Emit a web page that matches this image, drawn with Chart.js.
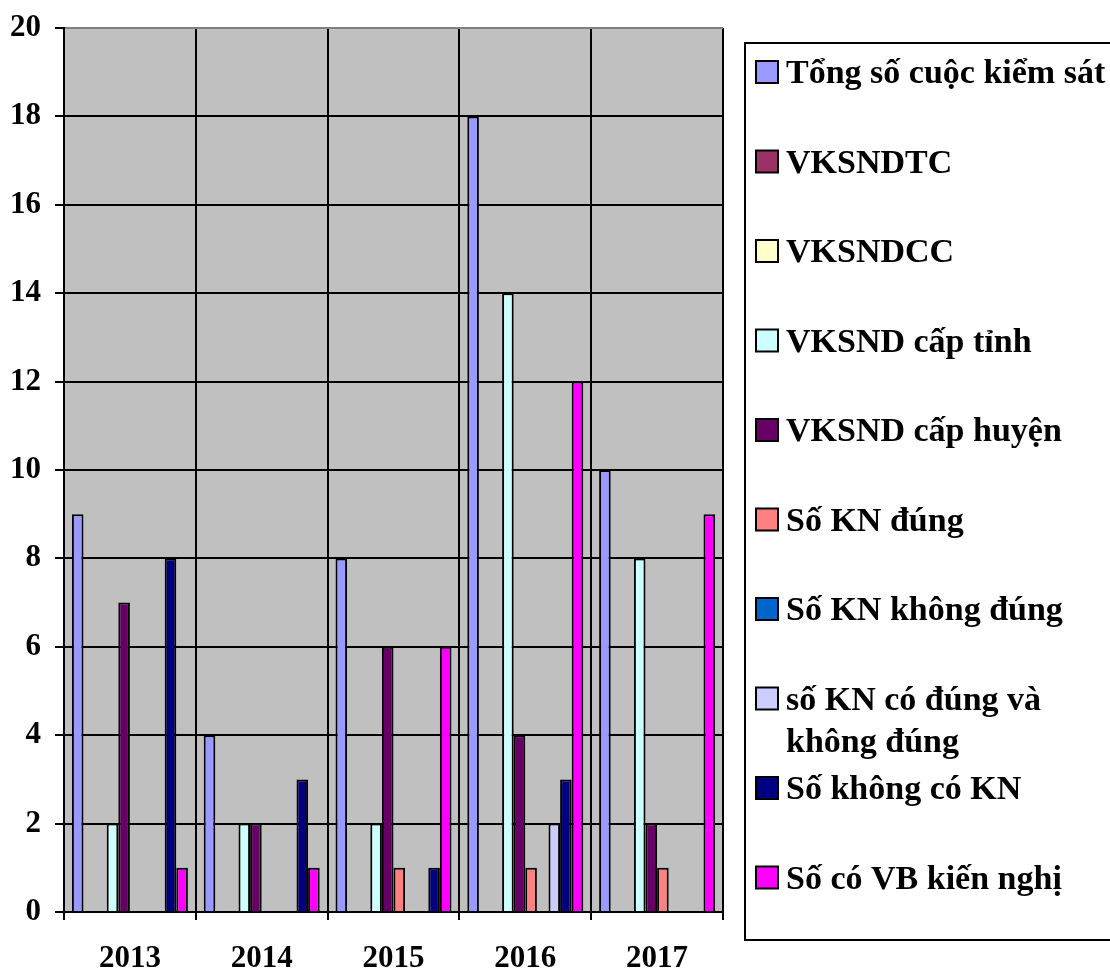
<!DOCTYPE html>
<html>
<head>
<meta charset="utf-8">
<script src="https://cdn.jsdelivr.net/npm/chart.js@4"></script>
<style>
  body { margin: 0; background: #fff; }
  #wrap { width: 1110px; height: 969px; }
</style>
</head>
<body>
<div id="wrap"><canvas id="bieuDo" width="1110" height="969"></canvas></div>
<script>
// du lieu doc tu hinh
var nam = ['2013', '2014', '2015', '2016', '2017'];
var tongSoCuoc   = [9, 4, 8, 18, 10];
var vksndtc      = [0, 0, 0, 0, 0];
var vksndcc      = [0, 0, 0, 0, 0];
var capTinh      = [2, 2, 2, 14, 8];
var capHuyen     = [7, 2, 6, 4, 2];
var knDung       = [0, 0, 1, 1, 1];
var knKhongDung  = [0, 0, 0, 0, 0];
var knCaHai      = [0, 0, 0, 2, 0];
var khongCoKN    = [8, 3, 1, 3, 0];
var coVBKienNghi = [1, 1, 6, 12, 9];

var tenSeries = ['Tổng số cuộc kiểm sát', 'VKSNDTC', 'VKSNDCC', 'VKSND cấp tỉnh', 'VKSND cấp huyện',
  'Số KN đúng', 'Số KN không đúng', ['số KN có đúng và', 'không đúng'], 'Số không có KN', 'Số có VB kiến nghị'];
var mau = ['#9999FF', '#993366', '#FFFFCC', '#CCFFFF', '#660066', '#FF8080', '#0066CC', '#CCCCFF', '#000080', '#FF00FF'];
var giaTri = [tongSoCuoc, vksndtc, vksndcc, capTinh, capHuyen, knDung, knKhongDung, knCaHai, khongCoKN, coVBKienNghi];

var fontChu = '"Liberation Serif", "Times New Roman", serif';

var datasets = giaTri.map(function(d, i) {
  return {
    label: Array.isArray(tenSeries[i]) ? tenSeries[i].join(' ') : tenSeries[i],
    data: d,
    backgroundColor: mau[i],
    borderColor: '#000',
    borderWidth: function(ctx) { return ctx.raw ? 2 : 0; },
    borderSkipped: 'bottom'
  };
});

// nen xam cua vung ve
var nenXam = {
  id: 'nenXam',
  beforeDraw: function(chart) {
    var a = chart.chartArea, c = chart.ctx;
    c.save();
    c.fillStyle = '#C0C0C0';
    c.fillRect(a.left, a.top, a.right - a.left, a.bottom - a.top);
    c.restore();
  }
};

// chu giai ve tay ben phai
var chuGiai = {
  id: 'chuGiai',
  afterDraw: function(chart) {
    var c = chart.ctx;
    c.save();
    c.strokeStyle = '#000';
    c.lineWidth = 2;
    c.beginPath();
    c.moveTo(1112, 43); c.lineTo(745, 43); c.lineTo(745, 940); c.lineTo(1112, 940);
    c.stroke();
    c.font = 'bold 34px ' + fontChu;
    c.textBaseline = 'alphabetic';
    for (var i = 0; i < tenSeries.length; i++) {
      var y = 72 + i * 89.5;
      c.fillStyle = mau[i];
      c.fillRect(756, y - 11, 22, 22);
      c.lineWidth = 2;
      c.strokeRect(756, y - 11, 22, 22);
      c.fillStyle = '#000';
      var dong = Array.isArray(tenSeries[i]) ? tenSeries[i] : [tenSeries[i]];
      for (var k = 0; k < dong.length; k++) {
        c.fillText(dong[k], 786, y + 11 + k * 42);
      }
    }
    c.restore();
  }
};

var ctx = document.getElementById('bieuDo').getContext('2d');
var bieuDo = new Chart(ctx, {
  type: 'bar',
  data: { labels: nam, datasets: datasets },
  plugins: [nenXam, chuGiai],
  options: {
    responsive: false,
    animation: false,
    categoryPercentage: 0.88,
    barPercentage: 1.0,
    layout: { padding: { left: 0, top: 28, right: 387, bottom: 0 } },
    plugins: { legend: { display: false }, tooltip: { enabled: false } },
    scales: {
      x: {
        afterFit: function(s) { s.height = 57; s.paddingLeft = 0; s.paddingRight = 0; },
        grid: {
          offset: true,
          color: function(c) { return c.index === nam.length ? '#808080' : '#000'; },
          lineWidth: 2,
          tickLength: 8,
          tickColor: '#000'
        },
        border: { color: '#000', width: 2 },
        ticks: { color: '#000', font: { family: fontChu, size: 31, weight: 'bold' }, padding: 20 }
      },
      y: {
        min: 0, max: 20,
        afterFit: function(s) { s.width = 64; s.paddingTop = 0; s.paddingBottom = 0; },
        grid: {
          color: function(c) { return c.tick && c.tick.value === 20 ? '#808080' : '#000'; },
          lineWidth: 2,
          tickLength: 9,
          tickColor: '#000'
        },
        border: { color: '#000', width: 2 },
        ticks: { stepSize: 2, color: '#000', font: { family: fontChu, size: 31, weight: 'bold' }, padding: 14 }
      }
    }
  }
});
</script>
</body>
</html>
